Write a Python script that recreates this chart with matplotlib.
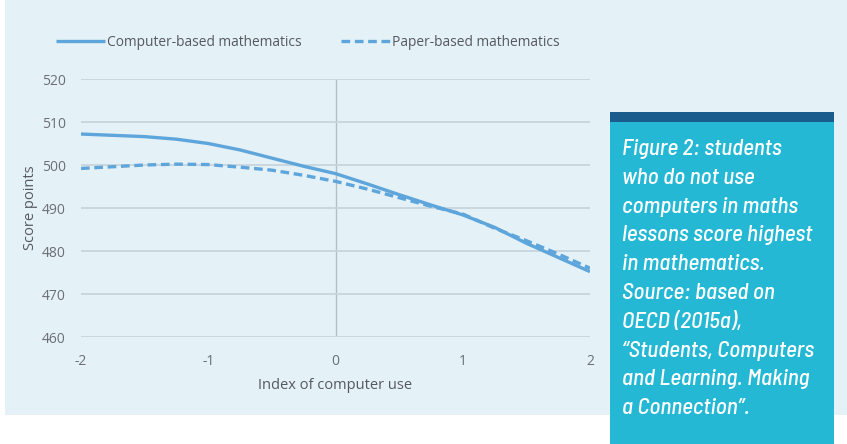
import numpy as np
import matplotlib
matplotlib.use("Agg")
import matplotlib.pyplot as plt
from matplotlib.patches import Rectangle

# index of computer use
index_vals = [-2, -1.75, -1.5, -1.25, -1.0, -0.75, -0.5, -0.25, 0,
              0.25, 0.5, 0.75, 1.0, 1.25, 1.5, 1.75, 2.0]
# score points
computer_based = [507.2, 506.9, 506.6, 506.0, 505.0, 503.5, 501.6, 499.7, 498.0,
                  495.6, 493.1, 490.7, 488.4, 485.5, 481.8, 478.5, 475.2]
paper_based = [499.2, 499.6, 500.0, 500.2, 500.1, 499.5, 498.8, 497.6, 496.2,
               494.4, 492.4, 490.4, 488.6, 485.3, 482.4, 479.3, 476.0]
x_ticks = [-2, -1, 0, 1, 2]
y_ticks = [460, 470, 480, 490, 500, 510, 520]

caption = ("Figure 2: students\nwho do not use\ncomputers in maths\n"
           "lessons score highest\nin mathematics.\nSource: based on\n"
           "OECD (2015a),\n\u201cStudents, Computers\nand Learning. Making\n"
           "a Connection\u201d.")

line_col = "#5da5da"
grid_col = "#c9d5dc"
text_col = "#6b6f73"
W, H = 847, 444

plt.rcParams['font.family'] = ['Open Sans', 'DejaVu Sans']

fig = plt.figure(figsize=(W / 100, H / 100), dpi=100)
fig.patch.set_facecolor("white")

# light background panel
fig.patches.append(Rectangle((5 / W, 1 - 415 / H), 1 - 5 / W, 415 / H,
                             transform=fig.transFigure, facecolor="#e4f1f7",
                             edgecolor="none", zorder=-10))
# caption box
fig.patches.append(Rectangle((610 / W, 0), 224 / W, 1 - 112 / H,
                             transform=fig.transFigure, facecolor="#24b8d5",
                             edgecolor="none", zorder=-9))
fig.patches.append(Rectangle((610 / W, 1 - 122 / H), 224 / W, 10 / H,
                             transform=fig.transFigure, facecolor="#1a5c8c",
                             edgecolor="none", zorder=-8))

ax = fig.add_axes([81 / W, 1 - 337 / H, (590 - 81) / W, (337 - 79) / H])
ax.set_facecolor("none")

ax.plot(index_vals, computer_based, color=line_col, lw=2.4,
        label="Computer-based mathematics", solid_capstyle="butt", zorder=3)
ax.plot(index_vals, paper_based, color=line_col, lw=2.4, dashes=(2.6, 1.4),
        label="Paper-based mathematics", zorder=3)

ax.set_xlim(-2, 2)
ax.set_ylim(460, 520)
ax.set_xticks(x_ticks)
ax.set_yticks(y_ticks)
ax.set_xticklabels([str(v) for v in x_ticks])
ax.grid(axis="y", color=grid_col, lw=1.3)
ax.axvline(0, color="#b3bfc6", lw=1.0, zorder=1)
for s in ax.spines.values():
    s.set_visible(False)
ax.tick_params(length=0, labelsize=10, labelcolor=text_col)
ax.tick_params(axis="y", pad=11)
ax.tick_params(axis="x", pad=12)
ax.set_xlabel("Index of computer use", fontsize=10.5, color="#55595d", labelpad=7)
ax.set_ylabel("Score points", fontsize=10.5, color="#55595d", labelpad=2.5)

ax.legend(loc="center left", bbox_to_anchor=(50 / W, 1 - 42 / H),
          bbox_transform=fig.transFigure, ncol=2, frameon=False,
          fontsize=9.9, handlelength=3.6, handletextpad=0.12,
          columnspacing=2.9, labelcolor="#55595d", borderaxespad=0)

fig.text(622 / W, 1 - 139 / H, caption, ha="left", va="top",
         color="white", fontsize=16.6, style="italic", weight="medium",
         linespacing=1.55,
         family=["Barlow Semi Condensed", "Roboto Condensed", "DejaVu Sans"])

fig.savefig("out.png", dpi=100, facecolor=fig.get_facecolor())
